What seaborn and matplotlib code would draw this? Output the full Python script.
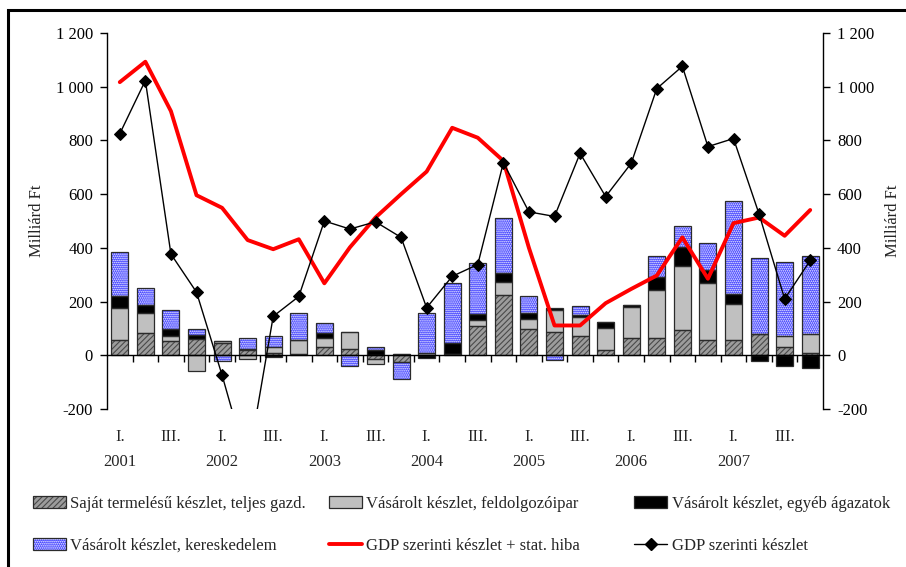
import numpy as np
import pandas as pd
import matplotlib.pyplot as plt
import matplotlib.transforms as mtransforms
import seaborn as sns
from matplotlib.patches import Patch, Rectangle
from matplotlib.lines import Line2D
from matplotlib.ticker import FuncFormatter

# quarterly data 2001 Q1 - 2007 Q4 (Milliárd Ft)
years = ["2001", "2002", "2003", "2004", "2005", "2006", "2007"]
quarter_names = ["I.", "II.", "III.", "IV."]

own_prod = [58, 83, 52, 61, 45, 21, 9, 6, 31, 25, -15, -25, 0, 5,
            108, 225, 99, 87, 72, 19, 66, 66, 95, 56, 56, 80, 31, 10]
bought_manuf = [118, 74, 21, -57, 8, -14, 22, 50, 35, 60, -18, 6, 9, 0,
                25, 47, 37, 80, 71, 81, 114, 178, 239, 213, 136, 0, 40, 68]
bought_other = [46, 31, 26, 15, 0, 3, -6, 0, 17, 0, 21, 0, -10, 40,
                19, 35, 21, 10, 6, 25, 9, 47, 68, 47, 35, -21, -40, -47]
bought_trade = [161, 62, 68, 22, -20, 40, 42, 102, 37, -40, 10, -64, 148, 224,
                193, 204, 62, -19, 33, 0, 0, 77, 78, 101, 346, 282, 278, 293]
gdp_stat = [1017, 1093, 909, 596, 549, 429, 395, 432, 268, 402, 513, 600, 684, 847,
            810, 724, 400, 111, 111, 194, 247, 297, 439, 285, 492, 513, 445, 541]
gdp = [825, 1023, 377, 235, -74, -410, 145, 219, 500, 470, 497, 439, 177, 294,
       338, 717, 534, 517, 752, 591, 715, 993, 1076, 777, 807, 526, 210, 353]

labels = ["Saját termelésű készlet, teljes gazd.",
          "Vásárolt készlet, feldolgozóipar",
          "Vásárolt készlet, egyéb ágazatok",
          "Vásárolt készlet, kereskedelem",
          "GDP szerinti készlet + stat. hiba",
          "GDP szerinti készlet"]

sns.set_theme(style="ticks")
plt.rcParams["font.family"] = ["Liberation Serif", "DejaVu Serif"]
plt.rcParams["hatch.linewidth"] = 0.8

fig = plt.figure(figsize=(9.06, 5.67), dpi=100)
ax = fig.add_axes([107 / 906, 1 - 409 / 567, 716 / 906, 376 / 567])

n = len(gdp)
x = np.arange(n)
layers = [
    (own_prod, "#9c9c9c", "//////", "#4a4a4a"),
    (bought_manuf, "#c0c0c0", None, "#c0c0c0"),
    (bought_other, "#000000", None, "#000000"),
    (bought_trade, "#4040ff", "........", "#ffffff"),
]
pos_base = np.zeros(n)
neg_base = np.zeros(n)
handles = []
for vals, face, hatch, hcol in layers:
    vals = np.array(vals, dtype=float)
    bottom = np.where(vals >= 0, pos_base, neg_base)
    ax.bar(x, vals, bottom=bottom, width=0.66, color=face, edgecolor=hcol,
           hatch=hatch, linewidth=0, zorder=2)
    ax.bar(x, vals, bottom=bottom, width=0.66, fill=False, edgecolor="#2b2b2b",
           linewidth=0.9, zorder=2.1)
    pos_base += np.where(vals > 0, vals, 0)
    neg_base += np.where(vals < 0, vals, 0)
    handles.append((Patch(facecolor=face, edgecolor=hcol, hatch=hatch, linewidth=0),
                    Patch(fill=False, edgecolor="#2b2b2b", linewidth=0.9)))

df = pd.DataFrame({"x": x, "gdp_stat": gdp_stat, "gdp": gdp})
sns.lineplot(data=df, x="x", y="gdp_stat", color="#ff0000", linewidth=2.8,
             ax=ax, zorder=4)
sns.lineplot(data=df, x="x", y="gdp", color="black", linewidth=1, marker="D",
             markersize=6.5, markeredgecolor="black", ax=ax, zorder=5)
handles.append(Line2D([], [], color="#ff0000", linewidth=2.8))
handles.append(Line2D([], [], color="black", linewidth=1, marker="D", markersize=6))

ax.set_xlim(-0.5, n - 0.5)
ax.set_ylim(-200, 1200)
fmt = FuncFormatter(lambda v, p: f"{v:,.0f}".replace(",", " "))
yticks = np.arange(-200, 1201, 200)
ax.set_yticks(yticks)
ax.yaxis.set_major_formatter(fmt)
ax.tick_params(axis="y", length=5, width=1, pad=5, labelsize=12, colors="black")
ax.set_xlabel("")
ax.set_ylabel("Milliárd Ft", fontsize=12)
ax.yaxis.set_label_coords(-0.087, 0.5)

ax.spines["top"].set_visible(False)
ax.spines["right"].set_visible(False)
ax.spines["bottom"].set_position(("data", 0))
for s in ["left", "bottom"]:
    ax.spines[s].set_color("black")
    ax.spines[s].set_linewidth(1)
ax.set_xticks(np.arange(0.5, n - 1, 1))
ax.tick_params(axis="x", length=5, width=1, labelbottom=False, colors="black")

ax2 = ax.twinx()
ax2.set_ylim(-200, 1200)
ax2.set_yticks(yticks)
ax2.yaxis.set_major_formatter(fmt)
ax2.tick_params(axis="y", length=5, width=1, pad=5, labelsize=12, colors="black")
ax2.set_ylabel("Milliárd Ft", fontsize=12)
ax2.yaxis.set_label_coords(1.087, 0.5)
for s in ["top", "bottom", "left"]:
    ax2.spines[s].set_visible(False)
ax2.spines["right"].set_color("black")
ax2.spines["right"].set_linewidth(1)

trans = mtransforms.blended_transform_factory(ax.transData, ax.transAxes)
for i in range(n):
    q = quarter_names[i % 4]
    if q in ("I.", "III."):
        ax.text(i, -0.074, q, transform=trans, ha="center", va="center", fontsize=12)
    if q == "I.":
        ax.text(i, -0.141, years[i // 4], transform=trans, ha="center",
                va="center", fontsize=12)

# legend in three columns
col_x = [33 / 906, 329 / 906, 634 / 906]
order = [(0, 3), (1, 4), (2, 5)]
for cx, (a, b) in zip(col_x, order):
    fig.legend([handles[a], handles[b]], [labels[a], labels[b]],
               loc="upper left", bbox_to_anchor=(cx, 1 - 496 / 567),
               frameon=False, fontsize=12, handlelength=2.0,
               handletextpad=0.25, labelspacing=1.55, borderpad=0,
               borderaxespad=0)

fig.add_artist(Rectangle((8 / 906, -0.1), 1.2, 1.1 - 10 / 567,
                         transform=fig.transFigure, fill=False,
                         edgecolor="black", linewidth=2.2))

fig.savefig("out.png", dpi=100)
